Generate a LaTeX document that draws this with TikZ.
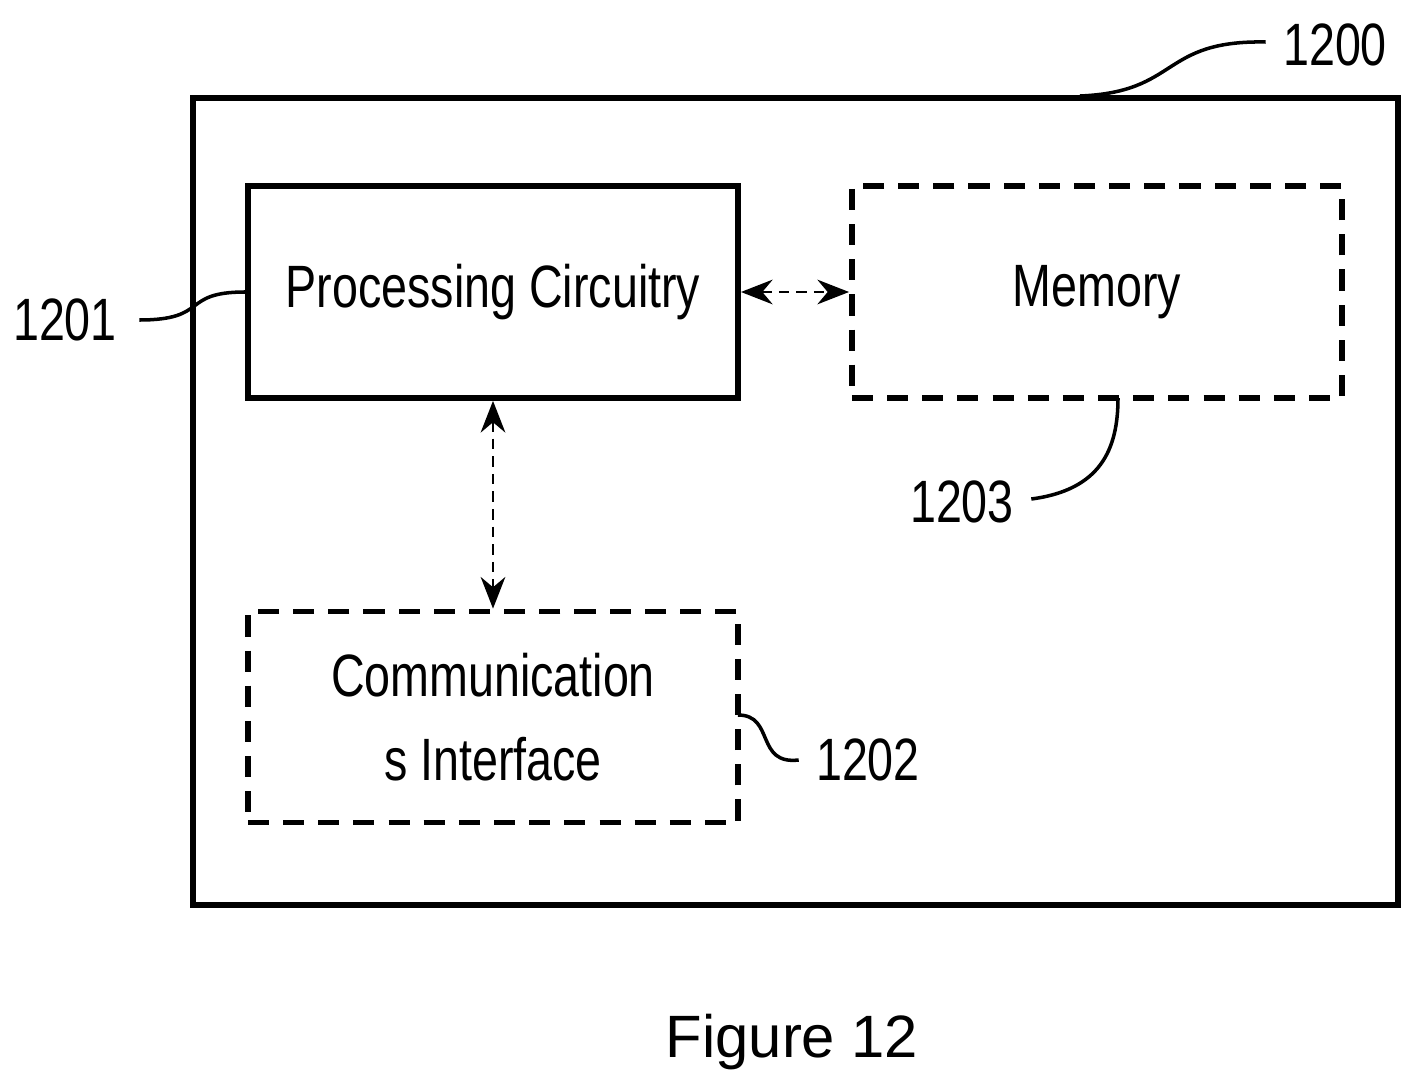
\documentclass[tikz,border=0pt]{standalone}
\usepackage{fontspec}
\setmainfont{Liberation Sans}
\newfontfamily\narrowf{Liberation Sans}[FakeStretch=0.78]
\usetikzlibrary{arrows.meta,calc}
\begin{document}
\begin{tikzpicture}[x=0.01cm,y=-0.01cm,
 box/.style={draw,line width=1.6pt},
 dbox/.style={draw,line width=1.6pt,dash pattern=on 6pt off 4pt},
 lbl/.style={font=\narrowf\fontsize{17}{20}\selectfont},
 lead/.style={line width=1pt},
 conn/.style={line width=0.8pt,dash pattern=on 3pt off 2pt,{Stealth[length=9pt,width=7pt]}-{Stealth[length=9pt,width=7pt]}}]
\useasboundingbox (0,0) rectangle (1421,1091);
\draw[box] (193,98) rectangle (1398,905);
\node[box,minimum width=4.9cm,minimum height=2.12cm,lbl] (pc) at (493,292) {Processing Circuitry};
\node[dbox,minimum width=4.9cm,minimum height=2.12cm,lbl] (mem) at (1097,292) {Memory};
\node[dbox,minimum width=4.9cm,minimum height=2.11cm,lbl,align=center] (ci) at (493,717) {Communication\\[4pt]s Interface};
\draw[conn] (pc.east) -- (mem.west);
\draw[conn] (pc.south) -- (ci.north);
\node[lbl] (l1200) at (1335,45) {1200};
\node[lbl] (l1201) at (65,320) {1201};
\node[lbl] (l1203) at (962,502) {1203};
\node[lbl] (l1202) at (868,760) {1202};
\coordinate (a0) at (1080,96);
\coordinate (a3) at (1118,398);
\coordinate (a2) at (738,715);
\draw[lead] (a0) .. controls (1180,92) and (1160,40) .. ($(l1200.west)+(-5,-3)$);
\draw[lead] ($(l1201.east)+(10,0)$) .. controls (210,320) and (180,292) .. (pc.west);
\draw[lead] ($(l1203.east)+(5,-3)$) .. controls (1100,490) and (1118,450) .. (a3);
\draw[lead] (a2) .. controls (775,715) and (755,765) .. ($(l1202.west)+(-5,0)$);
\node[font=\fontsize{17}{20}\selectfont] (fig) at (792,1042) {Figure 12};
\end{tikzpicture}
\end{document}
